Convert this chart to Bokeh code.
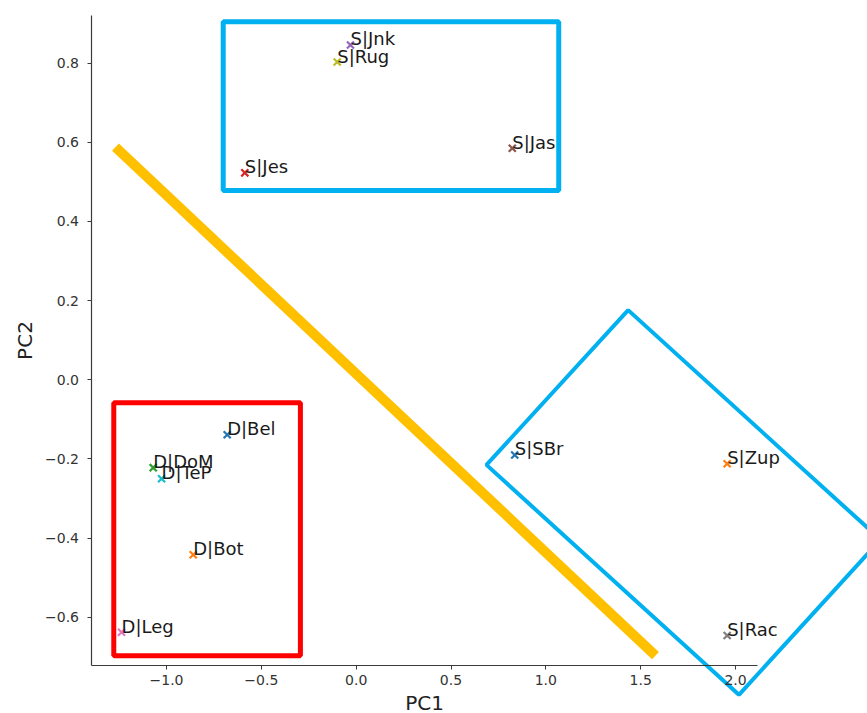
from bokeh.plotting import figure
from bokeh.models import ColumnDataSource, Range1d, LinearAxis, FixedTicker, CustomJSTickFormatter
from bokeh.core.properties import value
from bokeh.embed import file_html
from bokeh.resources import INLINE

# ---- data ----
names = ["D|Bel", "D|Bot", "D|DoM", "S|Jes", "S|Jnk", "S|Jas",
         "D|Leg", "S|Rac", "S|Rug", "D|TeP", "S|SBr", "S|Zup"]
pc1 = [-0.680, -0.859, -1.070, -0.587, -0.030, 0.823,
       -1.237, 1.956, -0.100, -1.026, 0.836, 1.956]
pc2 = [-0.139, -0.442, -0.222, 0.523, 0.846, 0.585,
       -0.638, -0.646, 0.803, -0.250, -0.190, -0.212]
colors = ["#1f77b4", "#ff7f0e", "#2ca02c", "#d62728", "#9467bd", "#8c564b",
          "#e377c2", "#7f7f7f", "#bcbd22", "#17becf", "#1f77b4", "#ff7f0e"]

x_ticks = [-1.0, -0.5, 0.0, 0.5, 1.0, 1.5, 2.0]
y_ticks = [-0.6, -0.4, -0.2, 0.0, 0.2, 0.4, 0.6, 0.8]

# annotation shapes (data coordinates)
red_box_x = [-1.278, -0.294, -0.294, -1.278]
red_box_y = [-0.058, -0.058, -0.697, -0.697]
blue_box_x = [-0.701, 1.068, 1.068, -0.701]
blue_box_y = [0.905, 0.905, 0.478, 0.478]
tilt_box_x = [0.687, 1.434, 2.765, 2.018]
tilt_box_y = [-0.215, 0.176, -0.404, -0.796]
divider_x = [-1.269, 1.578]
divider_y = [0.588, -0.697]

W, H = 867, 713
p = figure(width=W, height=H, output_backend="svg", toolbar_location=None,
           x_range=Range1d(-1.8752, 2.6959), y_range=Range1d(-0.8432, 0.9584),
           x_axis_location=None, y_axis_location=None,
           min_border=0, min_border_left=0, min_border_right=0,
           min_border_top=0, min_border_bottom=0)
p.outline_line_color = None
p.grid.grid_line_color = None
p.background_fill_color = "white"

fmt = CustomJSTickFormatter(code="return tick.toFixed(1).replace('-', '\\u2212');")

xaxis = LinearAxis(fixed_location=-0.7207, bounds=(-1.3928, 2.116),
                   ticker=FixedTicker(ticks=x_ticks), formatter=fmt,
                   axis_label="PC1")
yaxis = LinearAxis(fixed_location=-1.3928, bounds=(-0.7207, 0.9205),
                   ticker=FixedTicker(ticks=y_ticks), formatter=fmt,
                   axis_label="PC2")
for ax in (xaxis, yaxis):
    ax.axis_line_color = "#3a3a3a"
    ax.axis_line_width = 1.2
    ax.major_tick_line_color = "#3a3a3a"
    ax.major_tick_in = 0
    ax.major_tick_out = 4
    ax.minor_tick_line_color = None
    ax.major_label_text_font = "DejaVu Sans"
    ax.major_label_text_font_size = "14px"
    ax.major_label_text_color = "#333333"
    ax.axis_label_text_font = "DejaVu Sans"
    ax.axis_label_text_font_size = "20px"
    ax.axis_label_text_font_style = "normal"
    ax.axis_label_text_color = "#222222"
xaxis.major_label_standoff = 6
xaxis.axis_label_standoff = 2
yaxis.major_label_standoff = 9
yaxis.axis_label_standoff = 5
p.add_layout(xaxis, "below")
p.add_layout(yaxis, "left")

# annotations
p.line(divider_x, divider_y, line_color="#FFC000", line_width=10, line_cap="butt")
p.patch(blue_box_x, blue_box_y, fill_color=None, line_color="#00B0F0", line_width=5)
p.patch(red_box_x, red_box_y, fill_color=None, line_color="#FF0000", line_width=5)
p.patch(tilt_box_x, tilt_box_y, fill_color=None, line_color="#00B0F0", line_width=4)

src = ColumnDataSource(dict(x=pc1, y=pc2, name=names, color=colors))
p.scatter("x", "y", source=src, marker="x", size=10, line_color="color", line_width=2.2)
p.text("x", "y", text="name", source=src, text_font=value("DejaVu Sans"),
       text_font_size="18px", text_color="#1a1a1a",
       text_align="left", text_baseline="alphabetic", y_offset=-6)

open("out.html", "w").write(file_html(p, INLINE))
